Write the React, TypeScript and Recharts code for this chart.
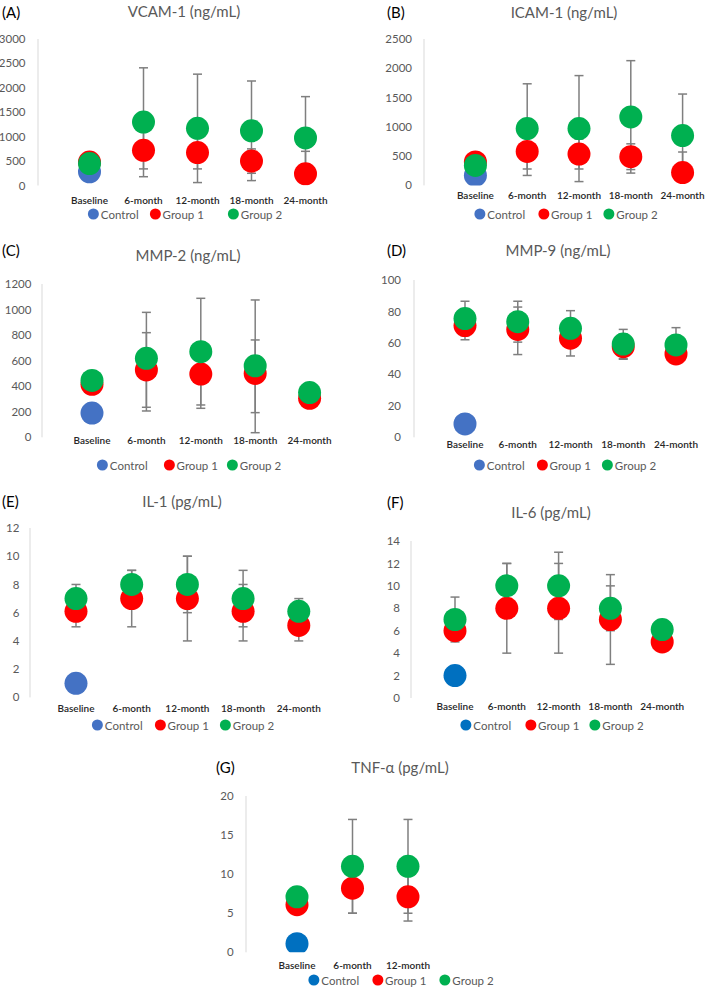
import React from 'react';
import { ScatterChart, Scatter, XAxis, YAxis, ErrorBar } from 'recharts';

const FONT = 'Lato, "Open Sans", sans-serif';

type Err = [number, number] | null;

// ---------- categories ----------
const categories5 = ['Baseline', '6-month', '12-month', '18-month', '24-month'];
const categories3 = ['Baseline', '6-month', '12-month'];
const legendNames = ['Control', 'Group 1', 'Group 2'];

// ---------- (A) VCAM-1 ----------
const vcamTicks = [0, 500, 1000, 1500, 2000, 2500, 3000];
const vcamControl = [280];
const vcamG1 = [480, 720, 675, 500, 240];
const vcamG2 = [450, 1300, 1170, 1120, 975];
const vcamG1Err: Err[] = [null, [380, 380], [335, 335], [250, 250], [200, 460]];
const vcamG2Err: Err[] = [null, [1120, 1110], [1110, 1110], [1020, 1020], [845, 845]];

// ---------- (B) ICAM-1 ----------
const icamTicks = [0, 500, 1000, 1500, 2000, 2500];
const icamControl = [170];
const icamG1 = [400, 580, 535, 490, 220];
const icamG2 = [340, 970, 970, 1170, 850];
const icamG1Err: Err[] = [null, [300, 300], [255, 255], [220, 220], [150, 350]];
const icamG2Err: Err[] = [null, [800, 765], [905, 905], [960, 960], [710, 710]];

// ---------- (C) MMP-2 ----------
const mmp2Ticks = [0, 200, 400, 600, 800, 1000, 1200];
const mmp2Control = [190];
const mmp2G1 = [415, 527, 495, 500, 305];
const mmp2G2 = [445, 618, 670, 560, 350];
const mmp2G1Err: Err[] = [null, [292, 292], [268, 250], [307, 262], null];
const mmp2G2Err: Err[] = [null, [412, 360], [417, 418], [524, 515], null];

// ---------- (D) MMP-9 ----------
const mmp9Ticks = [0, 20, 40, 60, 80, 100];
const mmp9Control = [8.5];
const mmp9G1 = [71, 68.6, 63, 57.6, 53];
const mmp9G2 = [75.5, 73.5, 69.3, 59.3, 58.7];
const mmp9G1Err: Err[] = [[9, 9], [16, 14.2], [11.3, 11], [8, 8], [6, 6]];
const mmp9G2Err: Err[] = [[11, 11], [13, 13], [11.2, 11.2], [9.3, 9.3], [11, 11]];

// ---------- (E) IL-1 ----------
const il1Ticks = [0, 2, 4, 6, 8, 10, 12];
const il1Control = [1];
const il1G1 = [6.1, 7, 7, 6.1, 5.1];
const il1G2 = [7, 8, 8, 7, 6.1];
const il1G1Err: Err[] = [[1.1, 1.1], [2, 2], [3, 3], [2.1, 1.9], [1.1, 1.1]];
const il1G2Err: Err[] = [[1, 1], [1, 1], [2, 2], [2, 2], [0.9, 0.9]];

// ---------- (F) IL-6 ----------
const il6Ticks = [0, 2, 4, 6, 8, 10, 12, 14];
const il6Control = [2];
const il6G1 = [6, 8, 8, 7, 5];
const il6G2 = [7, 10, 10, 8, 6.1];
const il6G1Err: Err[] = [null, [4, 4], [4, 4], [4, 4], null];
const il6G2Err: Err[] = [[2, 2], [2, 2], [3, 3], [2, 2], null];

// ---------- (G) TNF-α ----------
const tnfTicks = [0, 5, 10, 15, 20];
const tnfControl = [1.1];
const tnfG1 = [6.1, 8.2, 7.1];
const tnfG2 = [7.1, 11, 11];
const tnfG1Err: Err[] = [null, [3.2, 3], [3.1, 3]];
const tnfG2Err: Err[] = [null, [6, 6], [6, 6]];

// ---------- colours ----------
const BLUE_A = '#4472C4';
const BLUE_B = '#0070C0';
const RED = '#FF0000';
const GREEN = '#00B050';
const ERR = '#7F7F7F';

interface Geo {
  axisX: number; topY: number; zeroY: number; b: number; s: number; labOff: number; yGap: number;
  legendX: number; legendY: number; legendGaps: number[]; titleX: number; titleY: number; letterX: number; letterY: number;
}

interface Spec {
  letter: string; title: string; cats: string[]; yTicks: number[];
  control: number[]; g1: number[]; g2: number[]; g1Err: Err[]; g2Err: Err[];
  blue: string; geo: Geo;
}

const panels: Spec[] = [
  {
    letter: '(A)', title: 'VCAM-1 (ng/mL)', cats: categories5, yTicks: vcamTicks,
    control: vcamControl, g1: vcamG1, g2: vcamG2, g1Err: vcamG1Err, g2Err: vcamG2Err, blue: BLUE_A,
    geo: { axisX: 37.7, topY: 38.5, zeroY: 185, b: 89.2, s: 54, labOff: 14.5, yGap: 12.5,
      legendX: 185, legendY: 214, legendGaps: [11, 24], titleX: 184, titleY: 11, letterX: 2, letterY: 12 },
  },
  {
    letter: '(B)', title: 'ICAM-1 (ng/mL)', cats: categories5, yTicks: icamTicks,
    control: icamControl, g1: icamG1, g2: icamG2, g1Err: icamG1Err, g2Err: icamG2Err, blue: BLUE_A,
    geo: { axisX: 424.3, topY: 39.3, zeroY: 185.7, b: 475.7, s: 51.8, labOff: 9.5, yGap: 12,
      legendX: 566, legendY: 214, legendGaps: [13, 11], titleX: 564, titleY: 12, letterX: 387, letterY: 12 },
  },
  {
    letter: '(C)', title: 'MMP-2 (ng/mL)', cats: categories5, yTicks: mmp2Ticks,
    control: mmp2Control, g1: mmp2G1, g2: mmp2G2, g1Err: mmp2G1Err, g2Err: mmp2G2Err, blue: BLUE_A,
    geo: { axisX: 42.3, topY: 284, zeroY: 437.3, b: 92.3, s: 54.4, labOff: 3, yGap: 10.6,
      legendX: 189, legendY: 465, legendGaps: [16, 9], titleX: 188, titleY: 255, letterX: 2, letterY: 250 },
  },
  {
    letter: '(D)', title: 'MMP-9 (ng/mL)', cats: categories5, yTicks: mmp9Ticks,
    control: mmp9Control, g1: mmp9G1, g2: mmp9G2, g1Err: mmp9G1Err, g2Err: mmp9G2Err, blue: BLUE_A,
    geo: { axisX: 414, topY: 280, zeroY: 437.3, b: 465, s: 52.75, labOff: 6.7, yGap: 13,
      legendX: 565, legendY: 465, legendGaps: [12, 11], titleX: 558, titleY: 250, letterX: 387, letterY: 250 },
  },
  {
    letter: '(E)', title: 'IL-1 (pg/mL)', cats: categories5, yTicks: il1Ticks,
    control: il1Control, g1: il1G1, g2: il1G2, g1Err: il1G1Err, g2Err: il1G2Err, blue: BLUE_A,
    geo: { axisX: 30, topY: 528.3, zeroY: 697.7, b: 76, s: 55.7, labOff: 10.6, yGap: 10.7,
      legendX: 183, legendY: 725, legendGaps: [12, 11], titleX: 182, titleY: 501, letterX: 2, letterY: 501 },
  },
  {
    letter: '(F)', title: 'IL-6 (pg/mL)', cats: categories5, yTicks: il6Ticks,
    control: il6Control, g1: il6G1, g2: il6G2, g1Err: il6G1Err, g2Err: il6G2Err, blue: BLUE_B,
    geo: { axisX: 411, topY: 540.7, zeroY: 697.7, b: 455, s: 51.8, labOff: 8, yGap: 11,
      legendX: 552, legendY: 725, legendGaps: [14, 10], titleX: 551, titleY: 512, letterX: 387, letterY: 502 },
  },
  {
    letter: '(G)', title: 'TNF-α (pg/mL)', cats: categories3, yTicks: tnfTicks,
    control: tnfControl, g1: tnfG1, g2: tnfG2, g1Err: tnfG1Err, g2Err: tnfG2Err, blue: BLUE_B,
    geo: { axisX: 245.7, topY: 796, zeroY: 952.3, b: 296.7, s: 55.5, labOff: 12.7, yGap: 12.4,
      legendX: 401, legendY: 980, legendGaps: [13, 13], titleX: 400, titleY: 767, letterX: 216, letterY: 767 },
  },
];

const R = 11.5;

const dot = (color: string) => (props: any) => (
  <circle cx={props.cx} cy={props.cy} r={R} fill={color} />
);
const noDot = () => <g />;

function Legend({ x, y, colors, gaps }: { x: number; y: number; colors: string[]; gaps: number[] }) {
  return (
    <div
      style={{
        position: 'absolute', left: x, top: y, transform: 'translate(-50%, -50%)',
        display: 'flex', alignItems: 'center', whiteSpace: 'nowrap',
        fontFamily: FONT, fontSize: 11.5, color: '#595959',
      }}
    >
      {legendNames.map((name, i) => (
        <div key={name} style={{ display: 'flex', alignItems: 'center', marginLeft: i === 0 ? 0 : gaps[i - 1] }}>
          <span style={{ display: 'inline-block', width: 11, height: 11, borderRadius: '50%', background: colors[i], marginRight: 2 }} />
          <span>{name}</span>
        </div>
      ))}
    </div>
  );
}

function Panel({ spec }: { spec: Spec }) {
  const g = spec.geo;
  const n = spec.cats.length;
  const xmin = -(g.b - g.axisX) / g.s;
  const xmax = n - 1 + 0.5;
  const plotW = (xmax - xmin) * g.s;
  const yAxisW = 40;
  const marginTop = 10;
  const xAxisH = 30;
  const left = g.axisX - yAxisW;
  const top = g.topY - marginTop;
  const width = yAxisW + plotW;
  const height = marginTop + (g.zeroY - g.topY) + xAxisH;
  const ymax = spec.yTicks[spec.yTicks.length - 1];

  const ctrlData = spec.control.map((y, i) => ({ x: i, y }));
  const g1Data = spec.g1.map((y, i) => ({ x: i, y, err: spec.g1Err[i] }));
  const g2Data = spec.g2.map((y, i) => ({ x: i, y, err: spec.g2Err[i] }));
  const g1ErrData = g1Data.filter((d) => d.err);
  const g2ErrData = g2Data.filter((d) => d.err);

  const renderXTick = (props: any) => {
    const { x, y, payload } = props;
    return (
      <text
        x={x} y={y + g.labOff} textAnchor="middle" dominantBaseline="central"
        fontFamily={FONT} fontSize={10} fontWeight={600} fill="#262626"
      >
        {spec.cats[payload.value]}
      </text>
    );
  };

  return (
    <>
      <div style={{ position: 'absolute', left: g.letterX, top: g.letterY, transform: 'translateY(-50%)', fontFamily: FONT, fontSize: 15, color: '#000', whiteSpace: 'nowrap' }}>
        {spec.letter}
      </div>
      <div style={{ position: 'absolute', left: g.titleX, top: g.titleY, transform: 'translate(-50%, -50%)', fontFamily: FONT, fontSize: 15, color: '#595959', whiteSpace: 'nowrap' }}>
        {spec.title}
      </div>
      <div style={{ position: 'absolute', left, top }}>
        <ScatterChart width={width} height={height} margin={{ top: marginTop, right: 0, bottom: 0, left: 0 }}>
          <XAxis
            type="number" dataKey="x" domain={[xmin, xmax]} ticks={spec.cats.map((_, i) => i)}
            allowDataOverflow axisLine={false} tickLine={false} tickSize={0} tickMargin={0}
            height={xAxisH} tick={renderXTick} interval={0}
          />
          <YAxis
            type="number" dataKey="y" domain={[0, ymax]} ticks={spec.yTicks} allowDataOverflow
            width={yAxisW} axisLine={{ stroke: '#D9D9D9', strokeWidth: 1 }} tickLine={false}
            tickSize={0} tickMargin={g.yGap} interval={0}
            tick={{ fill: '#595959', fontSize: 11.5, fontFamily: FONT }}
          />
          <Scatter data={g1ErrData} shape={noDot} isAnimationActive={false}>
            <ErrorBar dataKey="err" direction="y" width={4.5} stroke={ERR} strokeWidth={1.5} />
          </Scatter>
          <Scatter data={g2ErrData} shape={noDot} isAnimationActive={false}>
            <ErrorBar dataKey="err" direction="y" width={4.5} stroke={ERR} strokeWidth={1.5} />
          </Scatter>
          <Scatter data={ctrlData} shape={dot(spec.blue)} isAnimationActive={false} />
          <Scatter data={g1Data} shape={dot(RED)} isAnimationActive={false} />
          <Scatter data={g2Data} shape={dot(GREEN)} isAnimationActive={false} />
        </ScatterChart>
      </div>
      <Legend x={g.legendX} y={g.legendY} colors={[spec.blue, RED, GREEN]} gaps={g.legendGaps} />
    </>
  );
}

export default function App() {
  return (
    <div style={{ position: 'absolute', left: 0, top: 0, width: 709, height: 987, overflow: 'hidden', background: '#fff', fontFamily: FONT }}>
      {panels.map((p) => (
        <Panel key={p.letter} spec={p} />
      ))}
    </div>
  );
}
